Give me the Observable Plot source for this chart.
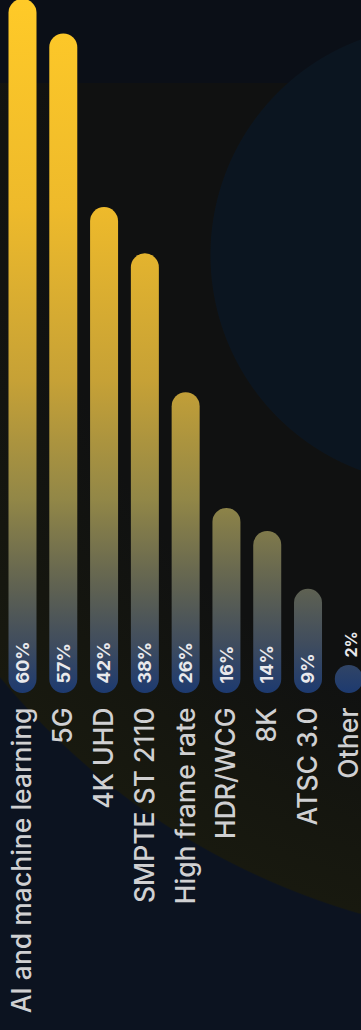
<!DOCTYPE html>
<html>
<head>
<meta charset="utf-8">
<script src="https://cdn.jsdelivr.net/npm/d3@7"></script>
<script src="https://cdn.jsdelivr.net/npm/@observablehq/plot@0.6"></script>
<style>
  html, body { margin: 0; padding: 0; background: #0c121d; }
  #chart {
    width: 361px; height: 1030px; overflow: hidden; position: relative;
    background:
      radial-gradient(circle 230px at 440px 255px, #0b1520 99.6%, transparent 100%),
      linear-gradient(#0b0f17 0, #0b0f17 83px, transparent 83px),
      radial-gradient(circle 729px at 562px 214px, #101111 0, #101111 70%, #15160f 88%, #18190f 99.8%, transparent 100%),
      #0c1320;
  }
  #chart svg { display: block; }
</style>
</head>
<body>
<div id="chart"></div>
<script>
const categories = ["AI and machine learning", "5G", "4K UHD", "SMPTE ST 2110", "High frame rate", "HDR/WCG", "8K", "ATSC 3.0", "Other"];
const values = [60, 57, 42, 38, 26, 16, 14, 9, 2];
const valueLabels = ["60%", "57%", "42%", "38%", "26%", "16%", "14%", "9%", "2%"];

const data = categories.map((c, i) => ({category: c, value: values[i], label: valueLabels[i]}));

const W = 361, H = 1030;
const BASE = 693, TOP = -1.2;
const BAR_W = 28;
const pxPerUnit = (BASE - TOP) / 60;
const minVal = BAR_W / pxPerUnit;

const defs = () => {
  const g = d3.create("svg:defs");
  const lg = g.append("linearGradient")
    .attr("id", "barGrad")
    .attr("gradientUnits", "userSpaceOnUse")
    .attr("x1", 0).attr("y1", 0).attr("x2", 0).attr("y2", BASE);
  [[0, "#ffca28"], [0.3, "#eeba2b"], [0.55, "#c6a136"], [0.72, "#928747"],
   [0.85, "#5e6152"], [0.93, "#3f4c5e"], [1, "#1d3a70"]].forEach(([o, c]) =>
    lg.append("stop").attr("offset", o).attr("stop-color", c));
  return g.node();
};

const chart = Plot.plot({
  width: W,
  height: H,
  marginTop: 0, marginRight: 0, marginBottom: H - BASE, marginLeft: 0,
  style: {background: "transparent", overflow: "visible"},
  x: {type: "band", domain: categories, range: [8.5, 362.8], paddingInner: 0.3136, paddingOuter: 0, round: false, axis: null},
  y: {domain: [0, 60], range: [BASE, TOP], axis: null},
  marks: [
    defs,
    Plot.rectY(data, {
      x: "category",
      y1: 0,
      y2: d => Math.max(d.value, minVal),
      fill: "url(#barGrad)",
      rx: BAR_W / 2
    }),
    Plot.text(data.filter(d => d.value >= 5), {
      x: "category", y: 0, text: "label",
      rotate: -90, textAnchor: "start", dy: -10,
      fill: "#e9e9ec", fontWeight: 700, fontSize: 18,
      fontFamily: "Inter, 'Open Sans', sans-serif"
    }),
    Plot.text(data.filter(d => d.value < 5), {
      x: "category", y: d => Math.max(d.value, minVal), text: "label",
      rotate: -90, textAnchor: "start", dy: -8, dx: 3,
      fill: "#e9e9ec", fontWeight: 700, fontSize: 16,
      fontFamily: "Inter, 'Open Sans', sans-serif"
    }),
    Plot.text(data, {
      x: "category", y: 0, text: "category",
      rotate: -90, textAnchor: "end", dy: 14,
      fill: "#d0d0d2", fontWeight: 500, fontSize: 26.5,
      fontFamily: "Inter, 'Open Sans', sans-serif"
    })
  ]
});

document.getElementById("chart").appendChild(chart);
</script>
</body>
</html>
